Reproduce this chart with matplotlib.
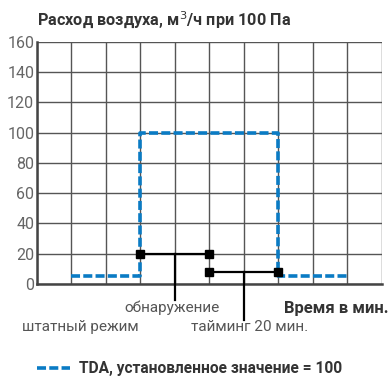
import matplotlib
matplotlib.use('Agg')
import matplotlib.pyplot as plt
from matplotlib.lines import Line2D

plt.rcParams['font.family'] = ['Roboto', 'DejaVu Sans']

# TDA setpoint curve (minutes grid units, m3/h)
tda_x = [1, 3, 3, 7, 7, 9]
tda_y = [5, 5, 100, 100, 5, 5]

# detection segment
det_x = [3, 5]
det_y = [20, 20]
det_mid = 4
# timing segment
tim_x = [5, 7]
tim_y = [8, 8]
tim_mid = 6

yticks = [0, 20, 40, 60, 80, 100, 120, 140, 160]

fig = plt.figure(figsize=(3.9, 3.78), dpi=100)
ax = fig.add_axes([0.0949, 0.2487, 0.8841, 0.6403])

ax.plot(tda_x, tda_y, color='#0a7bc4', lw=2.6, ls=(0, (2.5, 0.9)), zorder=3)

ax.plot(det_x, det_y, color='black', lw=1.6, marker='s', ms=6, zorder=4)
ax.plot([det_mid, det_mid], [20, -10.5], color='black', lw=1.6, clip_on=False, zorder=4)
ax.plot(tim_x, tim_y, color='black', lw=1.6, marker='s', ms=6, zorder=4)
ax.plot([tim_mid, tim_mid], [8, -24], color='black', lw=1.6, clip_on=False, zorder=4)

ax.set_xlim(0, 10)
ax.set_ylim(0, 160)
ax.set_xticks(range(0, 11))
ax.set_xticklabels([])
ax.set_yticks(yticks)
ax.set_yticklabels([str(v) for v in yticks], color='#666666', fontsize=11.5)
ax.tick_params(length=0, pad=2)
ax.grid(True, color='#555555', lw=1.0)
ax.set_axisbelow(True)
for s in ['top', 'right']:
    ax.spines[s].set_visible(False)
ax.spines['left'].set_color('#444444')
ax.spines['bottom'].set_color('#444444')
ax.spines['left'].set_linewidth(1.8)
ax.spines['bottom'].set_linewidth(1.8)

fig.text(37 / 390, 1 - 20 / 378, 'Расход воздуха, м$^3$/ч при 100 Па', fontsize=11.7,
         fontweight='bold', color='#333333', va='center', ha='left')

fig.text(172 / 390, 1 - 308 / 378, 'обнаружение', fontsize=11, color='#555555',
         ha='center', va='center')
fig.text(80 / 390, 1 - 327 / 378, 'штатный режим', fontsize=11, color='#555555',
         ha='center', va='center')
fig.text(250 / 390, 1 - 327 / 378, 'тайминг 20 мин.', fontsize=11, color='#555555',
         ha='center', va='center')
fig.text(389 / 390, 1 - 308 / 378, 'Время в мин.', fontsize=12, fontweight='bold',
         color='#333333', ha='right', va='center')

handle = Line2D([], [], color='#0a7bc4', lw=2.6, ls=(0, (2.5, 0.9)))
leg = fig.legend([handle], ['TDA, установленное значение = 100'], loc='center left',
                 bbox_to_anchor=(37 / 390, 1 - 369 / 378), frameon=False,
                 borderpad=0, borderaxespad=0,
                 handlelength=2.1, handletextpad=0.6, prop={'size': 11.2, 'weight': 'bold'})
for t in leg.get_texts():
    t.set_color('#333333')

fig.savefig('out.png', dpi=100)
